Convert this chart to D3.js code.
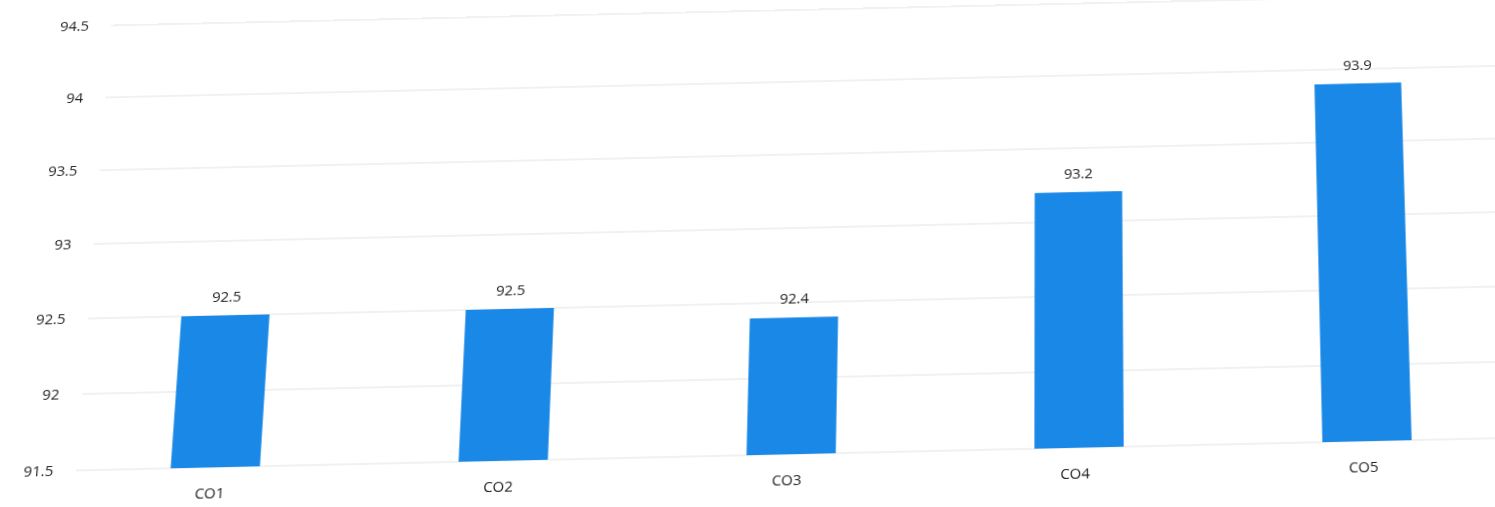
<!DOCTYPE html>
<html>
<head>
<meta charset="utf-8">
<script src="https://cdn.jsdelivr.net/npm/d3@7"></script>
<style>
  html, body { margin: 0; padding: 0; background: #ffffff; overflow: hidden; }
  #chart {
    display: block;
    overflow: visible;
    transform-origin: 1330px 442px;
    transform: perspective(1000px) rotateZ(-1.3deg) rotateX(4.6deg);
  }
  text { font-family: "Open Sans", "Liberation Sans", sans-serif; fill: #222222; }
</style>
</head>
<body>
<svg id="chart" width="1495" height="507"></svg>
<script>
const categories = ["CO1", "CO2", "CO3", "CO4", "CO5"];
const values = [92.5, 92.5, 92.4, 93.2, 93.9];
const yTicks = [91.5, 92, 92.5, 93, 93.5, 94, 94.5];
const yTickLabels = ["91.5", "92", "92.5", "93", "93.5", "94", "94.5"];

const svg = d3.select("#chart");
const baseY = 442, unit = 154;

const x = d3.scaleBand()
  .domain(categories)
  .range([71, 1511])
  .paddingInner(0.69)
  .paddingOuter(0.345);

const y = d3.scaleLinear()
  .domain([91.5, 94.5])
  .range([baseY, baseY - 3 * unit]);

// gridlines
svg.append("g").selectAll("line")
  .data(yTicks)
  .join("line")
  .attr("x1", 76).attr("x2", 1620)
  .attr("y1", d => y(d)).attr("y2", d => y(d))
  .attr("stroke", "#e4e4e4")
  .attr("stroke-width", 1.2);

// y axis labels
const yAxis = d3.axisLeft(y)
  .tickValues(yTicks)
  .tickFormat((d, i) => yTickLabels[i])
  .tickSize(0)
  .tickPadding(0);
const yg = svg.append("g").attr("transform", "translate(53,0)").call(yAxis);
yg.select(".domain").remove();
yg.selectAll("text").attr("font-size", 15).attr("fill", "#222222")
  .style("font-family", "'Open Sans', 'Liberation Sans', sans-serif");

// bars
svg.append("g").selectAll("rect")
  .data(values)
  .join("rect")
  .attr("x", (d, i) => x(categories[i]))
  .attr("width", x.bandwidth())
  .attr("y", d => y(d))
  .attr("height", d => y(91.5) - y(d))
  .attr("fill", "#1a88e6");

// value labels
svg.append("g").selectAll("text")
  .data(values)
  .join("text")
  .attr("x", (d, i) => x(categories[i]) + x.bandwidth() / 2)
  .attr("y", d => y(d) - 14)
  .attr("text-anchor", "middle")
  .attr("font-size", 15)
  .text(d => d.toFixed(1));

// x axis labels
const xAxis = d3.axisBottom(x).tickSize(0).tickPadding(0);
const xg = svg.append("g").attr("transform", `translate(-4,${baseY + 20})`).call(xAxis);
xg.select(".domain").remove();
xg.selectAll("text").attr("font-size", 15).attr("fill", "#222222")
  .style("font-family", "'Open Sans', 'Liberation Sans', sans-serif");
</script>
</body>
</html>
